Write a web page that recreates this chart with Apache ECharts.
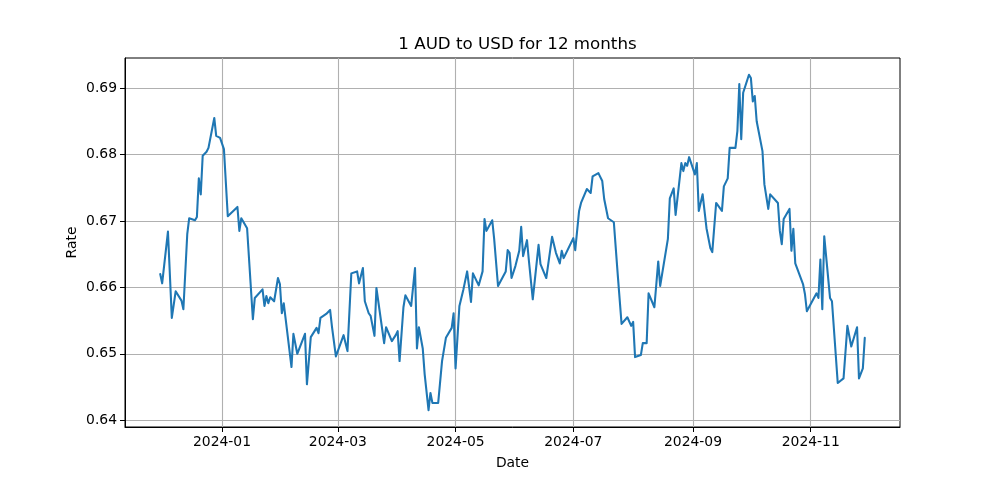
<!DOCTYPE html>
<html><head><meta charset="utf-8">
<script src="https://cdn.jsdelivr.net/npm/echarts@6/dist/echarts.min.js"></script>
<style>html,body{margin:0;padding:0;background:#fff}#c{width:1000px;height:480px}</style>
</head><body><div id="c"></div>
<script>
const dates = [
'2023-11-30','2023-12-01','2023-12-04','2023-12-06','2023-12-07','2023-12-08','2023-12-11','2023-12-12','2023-12-13','2023-12-14',
'2023-12-15','2023-12-18','2023-12-19','2023-12-20','2023-12-21','2023-12-22','2023-12-24','2023-12-25','2023-12-26','2023-12-28',
'2023-12-29','2023-12-31','2024-01-01','2024-01-02','2024-01-04','2024-01-09','2024-01-10','2024-01-11','2024-01-14','2024-01-17',
'2024-01-18','2024-01-22','2024-01-23','2024-01-24','2024-01-25','2024-01-26','2024-01-28','2024-01-30','2024-01-31','2024-02-01',
'2024-02-02','2024-02-06','2024-02-07','2024-02-09','2024-02-13','2024-02-14','2024-02-16','2024-02-19','2024-02-20','2024-02-21',
'2024-02-22','2024-02-24','2024-02-26','2024-02-27','2024-02-28','2024-02-29','2024-03-04','2024-03-06','2024-03-08','2024-03-11',
'2024-03-12','2024-03-14','2024-03-15','2024-03-17','2024-03-18','2024-03-20','2024-03-21','2024-03-25','2024-03-26','2024-03-27',
'2024-03-29','2024-03-31','2024-04-01','2024-04-02','2024-04-04','2024-04-05','2024-04-08','2024-04-10','2024-04-11','2024-04-12',
'2024-04-14','2024-04-15','2024-04-17','2024-04-18','2024-04-19','2024-04-22','2024-04-24','2024-04-26','2024-04-29','2024-04-30',
'2024-05-01','2024-05-03','2024-05-05','2024-05-07','2024-05-09','2024-05-10','2024-05-13','2024-05-15','2024-05-16','2024-05-17',
'2024-05-20','2024-05-21','2024-05-22','2024-05-23','2024-05-27','2024-05-28','2024-05-29','2024-05-30','2024-06-01','2024-06-03',
'2024-06-04','2024-06-05','2024-06-07','2024-06-08','2024-06-10','2024-06-11','2024-06-12','2024-06-13','2024-06-14','2024-06-17',
'2024-06-20','2024-06-22','2024-06-24','2024-06-25','2024-06-26','2024-06-27','2024-07-01','2024-07-02','2024-07-04','2024-07-05',
'2024-07-08','2024-07-10','2024-07-11','2024-07-14','2024-07-16','2024-07-17','2024-07-18','2024-07-19','2024-07-22','2024-07-24',
'2024-07-26','2024-07-29','2024-07-31','2024-08-01','2024-08-02','2024-08-05','2024-08-06','2024-08-08','2024-08-09','2024-08-12',
'2024-08-14','2024-08-15','2024-08-19','2024-08-20','2024-08-22','2024-08-23','2024-08-26','2024-08-27','2024-08-28','2024-08-29',
'2024-08-30','2024-09-02','2024-09-03','2024-09-04','2024-09-05','2024-09-06','2024-09-08','2024-09-10','2024-09-11','2024-09-13',
'2024-09-16','2024-09-17','2024-09-19','2024-09-20','2024-09-23','2024-09-24','2024-09-25','2024-09-26','2024-09-27','2024-09-30',
'2024-10-01','2024-10-02','2024-10-03','2024-10-04','2024-10-07','2024-10-08','2024-10-10','2024-10-11','2024-10-15','2024-10-16',
'2024-10-17','2024-10-18','2024-10-21','2024-10-22','2024-10-23','2024-10-24','2024-10-25','2024-10-28','2024-10-29','2024-10-30',
'2024-11-01','2024-11-04','2024-11-05','2024-11-06','2024-11-07','2024-11-08','2024-11-11','2024-11-12','2024-11-15','2024-11-18',
'2024-11-20','2024-11-22','2024-11-25','2024-11-26','2024-11-28','2024-11-29'
];
const rates = [
0.6620,0.6606,0.6684,0.6554,0.6552,0.6594,0.6580,0.6567,0.6564,0.6680,
0.6704,0.6701,0.6706,0.6764,0.6740,0.6798,0.6804,0.6810,0.6808,0.6855,
0.6828,0.6825,0.6822,0.6808,0.6707,0.6721,0.6685,0.6704,0.6689,0.6552,
0.6584,0.6597,0.6572,0.6587,0.6576,0.6585,0.6579,0.6614,0.6605,0.6561,
0.6576,0.6480,0.6530,0.6500,0.6530,0.6454,0.6525,0.6539,0.6531,0.6554,
0.6555,0.6560,0.6566,0.6540,0.6540,0.6496,0.6528,0.6504,0.6621,0.6624,
0.6606,0.6629,0.6579,0.6561,0.6557,0.6527,0.6599,0.6516,0.6540,0.6540,
0.6519,0.6528,0.6534,0.6489,0.6570,0.6588,0.6572,0.6629,0.6508,0.6540,
0.6508,0.6469,0.6415,0.6441,0.6426,0.6426,0.6489,0.6524,0.6539,0.6561,
0.6478,0.6572,0.6596,0.6624,0.6578,0.6621,0.6603,0.6624,0.6703,0.6685,
0.6701,0.6673,0.6670,0.6602,0.6624,0.6656,0.6652,0.6614,0.6632,0.6655,
0.6691,0.6647,0.6671,0.6640,0.6582,0.6609,0.6609,0.6664,0.6635,0.6614,
0.6676,0.6652,0.6636,0.6655,0.6644,0.6644,0.6674,0.6656,0.6715,0.6727,
0.6748,0.6742,0.6767,0.6772,0.6760,0.6733,0.6731,0.6704,0.6698,0.6620,
0.6545,0.6555,0.6542,0.6548,0.6495,0.6498,0.6516,0.6516,0.6591,0.6570,
0.6639,0.6602,0.6673,0.6734,0.6749,0.6709,0.6787,0.6775,0.6787,0.6783,
0.6796,0.6770,0.6787,0.6715,0.6718,0.6740,0.6689,0.6659,0.6653,0.6727,
0.6715,0.6752,0.6764,0.6810,0.6810,0.6835,0.6906,0.6823,0.6893,0.6920,
0.6915,0.6880,0.6888,0.6850,0.6805,0.6755,0.6718,0.6740,0.6727,0.6685,
0.6665,0.6703,0.6718,0.6655,0.6688,0.6636,0.6636,0.6605,0.6590,0.6564,
0.6575,0.6591,0.6584,0.6642,0.6567,0.6677,0.6584,0.6579,0.6456,0.6463,
0.6542,0.6511,0.6540,0.6463,0.6478,0.6524
];
const xTickLabels = ['2024-01','2024-03','2024-05','2024-07','2024-09','2024-11'];
const yTicks = [0.64,0.65,0.66,0.67,0.68,0.69];

function parseDate(s){const p=s.split('-').map(Number);return new Date(p[0],p[1]-1,p[2]||1).getTime();}
const tsData = dates.map((d,i)=>[parseDate(d), rates[i]]);
const xTicks = xTickLabels.map(parseDate);
const xMinD = tsData[0][0], xMaxD = tsData[tsData.length-1][0];
const xPad = (xMaxD-xMinD)*0.05;
const yMinD = Math.min(...rates), yMaxD = Math.max(...rates);
const yPad = (yMaxD-yMinD)*0.05;
const FONT = 'DejaVu Sans';
const chart = echarts.init(document.getElementById('c'), null, {renderer:'canvas'});
chart.setOption({
  animation:false,
  backgroundColor:'#ffffff',
  title:{text:'1 AUD to USD for 12 months', left:512.5, top:31, textAlign:'center',
    textStyle:{fontFamily:FONT, fontSize:16.7, fontWeight:'normal', color:'#000'}},
  grid:{left:125, right:100, top:58, bottom:53, show:true, borderColor:'#000', borderWidth:1, backgroundColor:'transparent', outerBoundsMode:'none'},
  xAxis:{type:'value', min:xMinD-xPad, max:xMaxD+xPad, scale:true,
    name:'Date', nameLocation:'middle', nameGap:29, nameMoveOverlap:false,
    nameTextStyle:{fontFamily:FONT, fontSize:13.9, color:'#000'},
    axisLine:{show:true, lineStyle:{color:'#000', width:1}},
    axisTick:{show:true, customValues:xTicks, length:5, lineStyle:{color:'#000', width:1}},
    axisLabel:{customValues:xTicks, margin:8, fontFamily:FONT, fontSize:13.9, color:'#000',
      formatter:function(v){const d=new Date(v);return d.getFullYear()+'-'+String(d.getMonth()+1).padStart(2,'0');}},
    splitLine:{show:true, lineStyle:{color:'#b0b0b0', width:1.1}}
  },
  yAxis:{type:'value', min:yMinD-yPad, max:yMaxD+yPad, scale:true,
    name:'Rate', nameLocation:'middle', nameGap:46, nameRotate:90, nameMoveOverlap:false,
    nameTextStyle:{fontFamily:FONT, fontSize:13.9, color:'#000'},
    axisLine:{show:true, lineStyle:{color:'#000', width:1}},
    axisTick:{show:true, customValues:yTicks, length:5, lineStyle:{color:'#000', width:1}},
    axisLabel:{customValues:yTicks, margin:8, fontFamily:FONT, fontSize:13.9, color:'#000',
      formatter:function(v){return v.toFixed(2);}},
    splitLine:{show:true, lineStyle:{color:'#b0b0b0', width:1.1}}
  },
  series:[{type:'line', data:tsData, showSymbol:false, symbol:'none',
    lineStyle:{color:'#1f77b4', width:2.08, join:'round', cap:'round'}, itemStyle:{color:'#1f77b4'}}]
});
</script>
</body></html>
